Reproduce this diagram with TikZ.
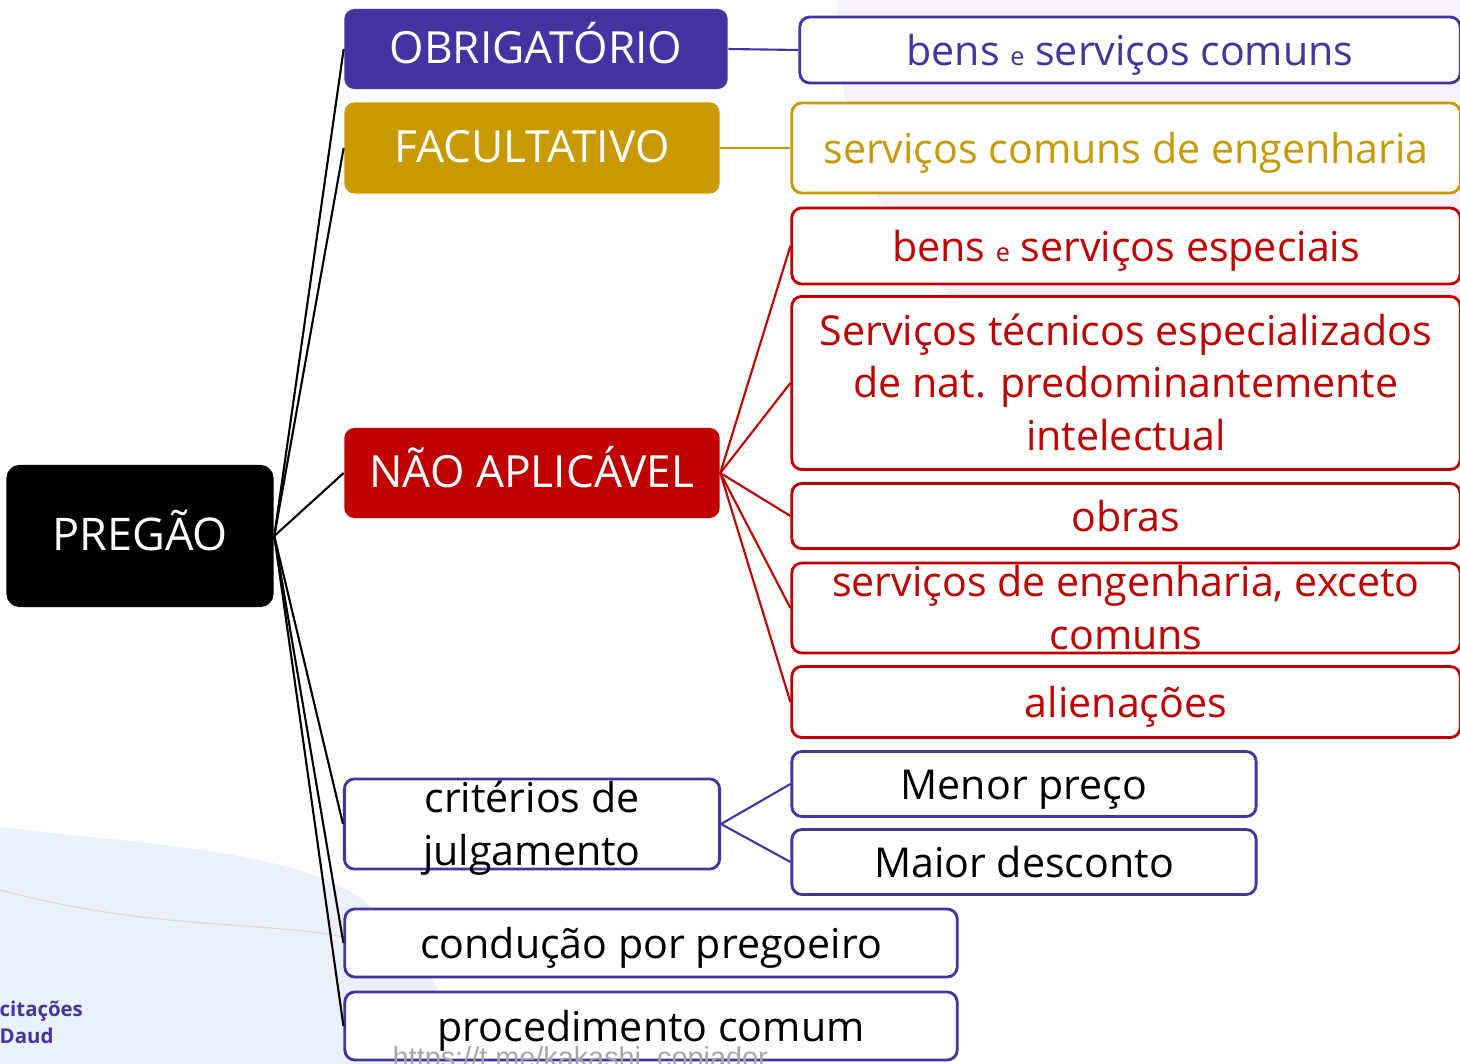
\documentclass[tikz,border=0pt]{standalone}
\usepackage{fontspec}
\setmainfont{Open Sans}
\newfontfamily\urlfont{Liberation Sans}
\definecolor{roxo}{HTML}{4433A0}
\definecolor{ouro}{HTML}{C99A00}
\definecolor{verm}{HTML}{C00000}
\definecolor{azulfundo}{HTML}{EAF1FB}
\definecolor{lavanda}{HTML}{F8F1FC}
\newcommand{\pe}{{\fontsize{7.2pt}{8pt}\selectfont e}}
\newcommand{\linhas}[1]{\smash{\begin{tabular}{@{}c@{}}#1\end{tabular}}}
\tikzset{
  raiz/.style={fill=black, text=white, rounded corners=0.13cm, inner sep=0pt, text height=0.8em, text depth=0pt, font=\fontsize{12.8pt}{15pt}\selectfont},
  cheio/.style={fill=#1, text=white, rounded corners=0.1cm, inner sep=0pt, text height=0.8em, text depth=0pt, font=\fontsize{12.6pt}{15pt}\selectfont},
  caixa/.style={draw=#1, fill=white, line width=0.8pt, rounded corners=0.1cm, inner sep=0pt, text=#1, text height=0.86em, text depth=0pt, font=\fontsize{11.7pt}{14.8pt}\selectfont},
  ramo/.style={draw=#1, line width=0.6pt},
}
\begin{document}
\begin{tikzpicture}[x=0.01cm, y=-0.01cm]
    \useasboundingbox (0,0) rectangle (1460,1064);
    \fill[lavanda] (1230,20) circle (393);
    \fill[azulfundo] (0,827) .. controls (150,845) and (300,850) .. (367,903) .. controls (420,950) and (450,1000) .. (470,1064) -- (0,1064) -- cycle;
    \draw[gray!30, line width=0.3pt] (0,890) .. controls (150,930) and (250,920) .. (345,937);

    \node[raiz, minimum width=2.67cm, minimum height=1.42cm] (preg) at (140,536) {PREGÃO};
    \node[cheio=roxo, minimum width=3.83cm, minimum height=0.80cm] (obrig) at (536,49) {OBRIGATÓRIO};
    \node[cheio=ouro, minimum width=3.75cm, minimum height=0.91cm] (facult) at (532,148) {FACULTATIVO};
    \node[cheio=verm, minimum width=3.75cm, minimum height=0.90cm] (naoapl) at (532,473) {NÃO APLICÁVEL};
    \node[caixa=roxo, text=black, minimum width=3.75cm, minimum height=0.90cm] (crit) at (532,824) {\linhas{critérios de\\julgamento}};
    \node[caixa=roxo, text=black, minimum width=6.12cm, minimum height=0.68cm] (cond) at (651,943) {condução por pregoeiro};
    \node[caixa=roxo, text=black, minimum width=6.12cm, minimum height=0.68cm] (proc) at (651,1026) {procedimento comum};

    \node[caixa=roxo, minimum width=6.60cm, minimum height=0.66cm] (bscom) at (1130,50) {bens \pe{} serviços comuns};
    \node[caixa=ouro, minimum width=6.68cm, minimum height=0.90cm] (sceng) at (1126,148) {serviços comuns de engenharia};
    \node[caixa=verm, minimum width=6.68cm, minimum height=0.76cm] (bsesp) at (1126,246) {bens \pe{} serviços especiais};
    \node[caixa=verm, minimum width=6.68cm, minimum height=1.73cm] (stec) at (1126,383) {\linhas{Serviços técnicos especializados\\de nat. predominantemente\\intelectual}};
    \node[caixa=verm, minimum width=6.68cm, minimum height=0.65cm] (obras) at (1126,516) {obras};
    \node[caixa=verm, minimum width=6.68cm, minimum height=0.90cm] (seng) at (1126,608) {\linhas{serviços de engenharia, exceto\\comuns}};
    \node[caixa=verm, minimum width=6.68cm, minimum height=0.71cm] (alien) at (1126,702) {alienações};
    \node[caixa=roxo, text=black, minimum width=4.64cm, minimum height=0.65cm] (menor) at (1024,784) {Menor preço};
    \node[caixa=roxo, text=black, minimum width=4.64cm, minimum height=0.65cm] (maior) at (1024,862) {Maior desconto};

    \draw[ramo=black] (preg.east) -- (obrig.west); \draw[ramo=black] (preg.east) -- (facult.west); \draw[ramo=black] (preg.east) -- (naoapl.west);
    \draw[ramo=black] (preg.east) -- (crit.west); \draw[ramo=black] (preg.east) -- (cond.west); \draw[ramo=black] (preg.east) -- (proc.west);
    \draw[ramo=roxo] (obrig.east) -- (bscom.west); \draw[ramo=ouro] (facult.east) -- (sceng.west);
    \draw[ramo=verm] (naoapl.east) -- (bsesp.west); \draw[ramo=verm] (naoapl.east) -- (stec.west); \draw[ramo=verm] (naoapl.east) -- (obras.west);
    \draw[ramo=verm] (naoapl.east) -- (seng.west); \draw[ramo=verm] (naoapl.east) -- (alien.west);
    \draw[ramo=roxo] (crit.east) -- (menor.west); \draw[ramo=roxo] (crit.east) -- (maior.west);

    \node[anchor=west, text=roxo, font=\bfseries\fontsize{5.8pt}{7pt}\selectfont, inner sep=0pt] (cit) at (-1,1011) {citações};
    \node[anchor=west, text=roxo, font=\bfseries\fontsize{5.8pt}{7pt}\selectfont, inner sep=0pt] (daud) at (-1,1036) {Daud};
    \node[anchor=base west, text=gray!70, font=\urlfont\fontsize{8.2pt}{10pt}\selectfont, inner sep=0pt] (url) at (392,1067) {https://t.me/kakashi\_copiador};
\end{tikzpicture}
\end{document}
